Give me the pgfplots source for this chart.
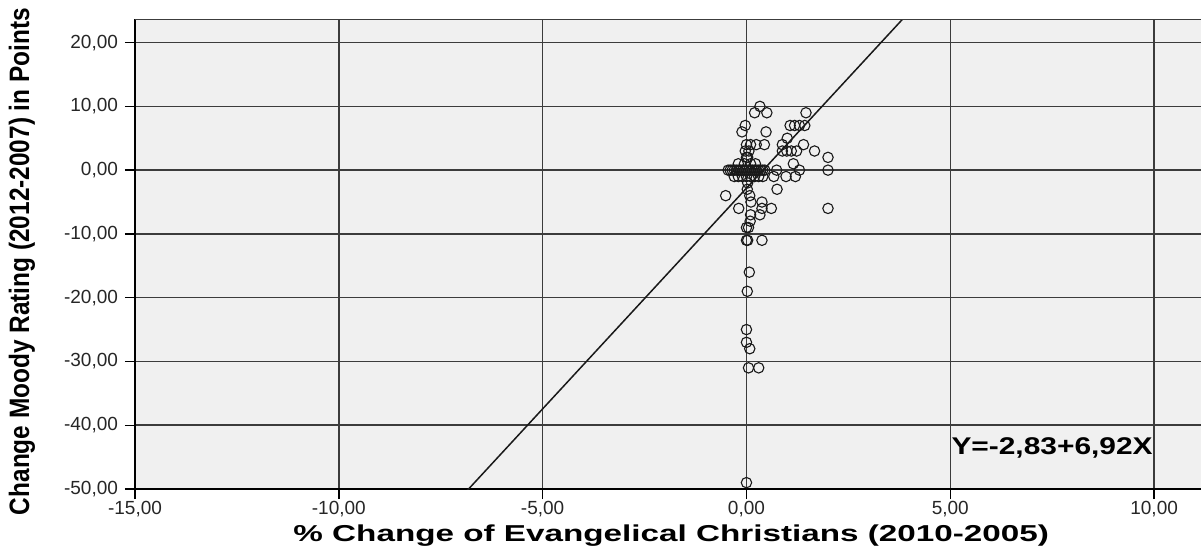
\documentclass[border=0pt]{standalone}
\usepackage{fontspec}
\setmainfont{Liberation Sans}
\usepackage{pgfplots}
\pgfplotsset{compat=1.18}
\definecolor{plotbg}{RGB}{240,240,240}
\definecolor{gridc}{RGB}{60,60,60}
\begin{document}
\begin{tikzpicture}
\begin{axis}[
  scale only axis, width=533pt, height=235pt,
  xmin=-15, xmax=11.15, ymin=-50, ymax=23.7,
  axis background/.style={fill=plotbg},
  axis x line*=bottom, axis y line*=left,
  axis line style={-, black, line width=0.9pt},
  xtick={-15,-10,...,10}, ytick={-50,-40,...,20},
  grid=major, major grid style={gridc, line width=0.75pt},
  tick align=outside, tick style={black, line width=0.7pt},
  major tick length=5pt,
  /pgf/number format/.cd, fixed, fixed zerofill, precision=2, use comma, assume math mode=true,
  /pgfplots/.cd,
  ticklabel style={font=\fontsize{9.5}{11}\selectfont, text=black!85},
  xticklabel style={yshift=2.5pt},
  xlabel={\scalebox{1.445}[1]{\bfseries\fontsize{11.5}{13}\selectfont \% Change of Evangelical Christians (2010-2005)}},
  xlabel style={at={(axis description cs:0.503,-0.099)}, anchor=center, inner sep=0pt},
  ylabel={\scalebox{1}[1.15]{\bfseries\fontsize{12.2}{14}\selectfont Change Moody Rating (2012-2007) in Points}},
  ylabel style={at={(axis description cs:-0.106,0.484)}, anchor=center, inner sep=0pt},
]
\addplot[only marks, mark=o, mark size=2.6pt, mark options={black!90, line width=0.55pt}] coordinates {
(0.33,10) (0.2,9) (0.5,9) (1.46,9)
(-0.03,7) (1.07,7) (1.18,7) (1.3,7) (1.43,7)
(-0.11,6) (0.48,6) (1.0,5)
(0,4) (0.1,4) (0.24,4) (0.44,4) (0.88,4) (1.4,4)
(-0.03,3) (0.06,3) (0.88,3) (0.99,3) (1.1,3) (1.23,3) (1.67,3)
(0,2) (0.03,2) (2.0,2)
(-0.2,1) (-0.05,1) (0.1,1) (0.22,1) (1.15,1)
(-0.45,0) (-0.4,0) (-0.35,0) (-0.3,0) (-0.25,0) (-0.2,0) (-0.15,0) (-0.1,0) (-0.05,0) (0,0)
(0.05,0) (0.1,0) (0.15,0) (0.2,0) (0.25,0) (0.3,0) (0.35,0) (0.4,0) (0.45,0)
(0.74,0) (1.3,0) (2.0,0)
(-0.3,-1) (-0.2,-1) (-0.1,-1) (0,-1) (0.1,-1) (0.2,-1) (0.3,-1) (0.4,-1)
(0.67,-1) (0.97,-1) (1.2,-1)
(0.03,-2)
(0.02,-3) (0.75,-3) (-0.51,-4) (0.08,-4) (0.11,-5) (0.38,-5)
(-0.19,-6) (0.38,-6) (0.61,-6) (2.0,-6) (0.1,-7) (0.33,-7) (0.09,-8)
(0.05,-9) (0,-9) (0,-11) (0.03,-11) (0.38,-11)
(0.07,-16) (0.02,-19) (0,-25) (0,-27) (0.08,-28) (0.05,-31) (0.3,-31) (0,-49)
};
\addplot[black!90, line width=0.75pt] coordinates {(-7.5,-54.73) (4.5,28.31)};
\draw[gridc, line width=0.8pt] (rel axis cs:0,1) -- (rel axis cs:1,1);
\node[anchor=west, inner sep=0pt] at (axis cs:5.02,-43.6) {\scalebox{1.3}[1.05]{\bfseries\fontsize{11.5}{13}\selectfont Y=-2,83+6,92X}};
\coordinate (bl) at (rel axis cs:0,0);
\coordinate (tr) at (rel axis cs:1,1);
\end{axis}
\pgfresetboundingbox
\path[use as bounding box] ([shift={(-67.5pt,-33pt)}]bl) rectangle ([shift={(0pt,9.5pt)}]tr);
\end{tikzpicture}
\end{document}
